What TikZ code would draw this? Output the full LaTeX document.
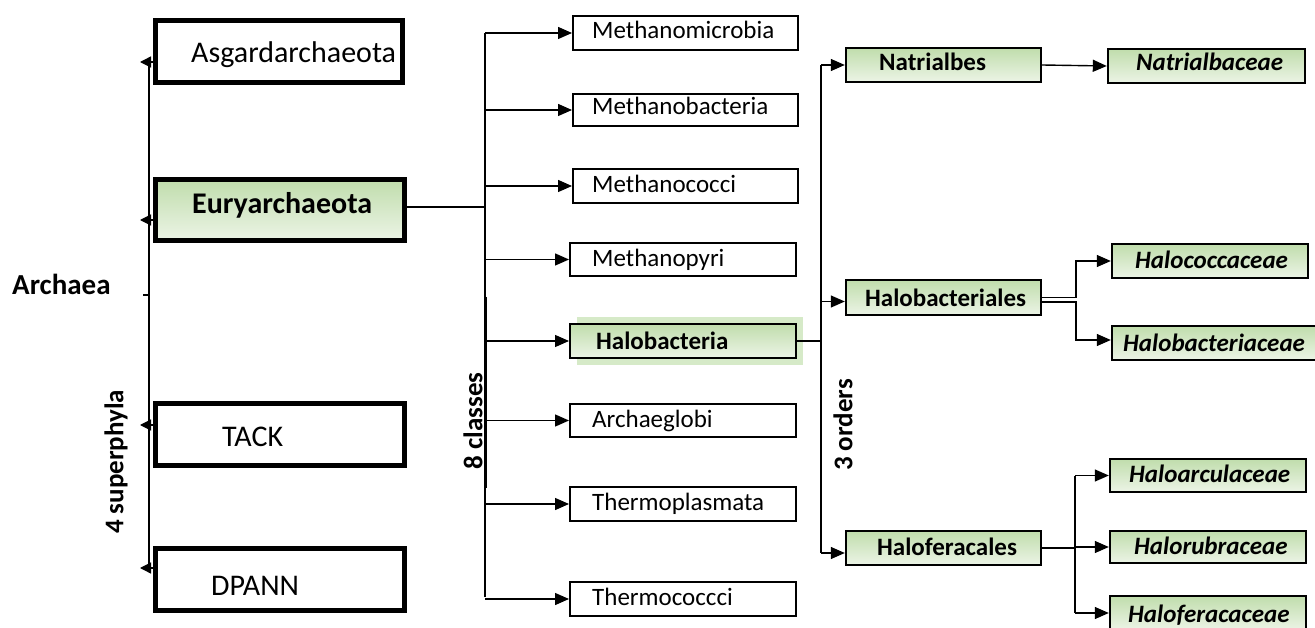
\documentclass[tikz,border=0pt]{standalone}
\usepackage{fontspec}
\setmainfont{Carlito}
\usetikzlibrary{arrows.meta}
\definecolor{gtop}{RGB}{192,221,172}
\definecolor{gbot}{RGB}{236,244,230}
\definecolor{glow}{RGB}{214,234,200}
\begin{document}
\begin{tikzpicture}[x=1pt,y=-1pt,
  bigbox/.style={draw, line width=5pt, rectangle, inner sep=0pt, fill=white},
  clsbox/.style={draw, line width=2pt, rectangle, inner sep=0pt, fill=white},
  ordbox/.style={draw, line width=2.4pt, rectangle, inner sep=0pt, top color=gtop, bottom color=gbot},
  grn/.style={top color=gtop, bottom color=gbot},
  bigtxt/.style={font=\fontsize{30}{32}\selectfont, anchor=base west, inner sep=0pt},
  clstxt/.style={font=\fontsize{25}{27}\selectfont, anchor=base west, inner sep=0pt},
  ordtxt/.style={font=\bfseries\fontsize{25}{27}\selectfont, anchor=base west, inner sep=0pt},
  famtxt/.style={font=\bfseries\itshape\fontsize{25}{27}\selectfont, anchor=base west, inner sep=0pt},
  sidelbl/.style={font=\bfseries\fontsize{27}{29}\selectfont, rotate=90, inner sep=0pt},
  conn/.style={line width=1.4pt},
  arr/.style={conn, -{Triangle[length=14pt,width=12pt]}},
  larr/.style={conn, -{Triangle[length=11pt,width=11pt]}}
]
\useasboundingbox (0,0) rectangle (1315,628);

% ---------- superphyla ----------
\node[bigbox, minimum width=247pt, minimum height=62pt] (asg) at (279,51.5) {};
\node[bigbox, grn, minimum width=249pt, minimum height=61pt] (eur) at (280,210) {};
\node[bigbox, minimum width=249pt, minimum height=62pt] (tack) at (280,434.5) {};
\node[bigbox, minimum width=249pt, minimum height=62pt] (dpann) at (280,579.5) {};
\node[bigtxt] (asgT) at (191,63) {Asgardarchaeota};
\node[bigtxt, font=\bfseries\fontsize{30}{32}\selectfont] (eurT) at (192,214) {Euryarchaeota};
\node[bigtxt] (tackT) at (222,446) {TACK};
\node[bigtxt] (dpannT) at (211,595) {DPANN};
\node[bigtxt, font=\bfseries\fontsize{29}{31}\selectfont] (archT) at (12,295) {Archaea};
\node[sidelbl] (supT) at (116,462) {4 superphyla};

\coordinate (s1) at (149,62);
\coordinate (s2) at (149,220);
\coordinate (s3) at (149,425);
\coordinate (s4) at (149,568);
\coordinate (sm) at (149,295);
\coordinate (smL) at (143,295);
\draw[conn] (s1) -- (s4);
\draw[conn] (sm) -- (smL);
\draw[larr] (asg.west |- s1) -- ++(-13,0);
\draw[larr] (eur.west |- s2) -- ++(-13,0);
\draw[larr] (tack.west |- s3) -- ++(-13,0);
\draw[larr] (dpann.west |- s4) -- ++(-13,0);

% ---------- classes ----------
\node[fill=glow, minimum width=226pt, minimum height=48pt, inner sep=0pt] (haloG) at (690,341) {};
\node[clsbox, minimum width=225pt, minimum height=34pt] (mmic) at (685.5,33) {};
\node[clsbox, minimum width=225pt, minimum height=32pt] (mbac) at (685.5,110) {};
\node[clsbox, minimum width=225pt, minimum height=34pt] (mcoc) at (685.5,186) {};
\node[clsbox, minimum width=226pt, minimum height=33pt] (mpyr) at (683,259.5) {};
\node[clsbox, grn, minimum width=226pt, minimum height=34pt] (halo) at (683,341) {};
\node[clsbox, minimum width=226pt, minimum height=33pt] (arch) at (683,420.5) {};
\node[clsbox, minimum width=226pt, minimum height=34pt] (tpla) at (683,504) {};
\node[clsbox, minimum width=226pt, minimum height=34pt] (tcoc) at (683,599) {};
\node[clstxt] (mmicT) at (592,39) {Methanomicrobia};
\node[clstxt] (mbacT) at (592,115) {Methanobacteria};
\node[clstxt] (mcocT) at (592,193) {Methanococci};
\node[clstxt] (mpyrT) at (592,267) {Methanopyri};
\node[ordtxt] (haloT) at (596,350) {Halobacteria};
\node[clstxt] (archT2) at (592,427) {Archaeglobi};
\node[clstxt] (tplaT) at (592,510) {Thermoplasmata};
\node[clstxt] (tcocT) at (592,605) {Thermococcci};
\node[sidelbl] (clsT) at (473,421) {8 classes};

\coordinate (cx) at (485,207);
\coordinate (cTop) at (485,33);
\coordinate (cBot) at (485,597);
\coordinate (cK1) at (485,297);
\coordinate (cK2) at (485,488);
\draw[conn] (eur.east |- cx) -- (cx);
\draw[conn] (cTop) -- (cBot);
\draw[line width=3pt] (cK1) -- (cK2);
\foreach \n in {mmic,mbac,mcoc,mpyr,halo,arch,tpla,tcoc}
  \draw[arr] (\n.west -| cx) -- (\n.west);

% ---------- orders ----------
\node[ordbox, minimum width=195pt, minimum height=34pt] (natr) at (943.5,65) {};
\node[ordbox, minimum width=195pt, minimum height=35pt] (hbal) at (943.5,297.5) {};
\node[ordbox, minimum width=195pt, minimum height=34pt] (hfer) at (943.5,548) {};
\node[ordtxt] (natrT) at (879,71) {Natrialbes};
\node[ordtxt] (hbalT) at (865,307) {Halobacteriales};
\node[ordtxt] (hferT) at (877,555) {Haloferacales};
\node[sidelbl] (ordT) at (843,425) {3 orders};

\coordinate (ox) at (821,341);
\coordinate (oTop) at (821,65);
\coordinate (oBot) at (821,553);
\draw[conn] (halo.east) -- (ox);
\draw[conn] (oTop) -- (oBot);
\draw[arr] (natr.west -| ox) -- (natr.west);
\draw[arr] ([yshift=-4pt]hbal.west -| ox) -- ([yshift=-4pt]hbal.west);
\draw[arr] ([yshift=-5pt]hfer.west -| ox) -- ([yshift=-5pt]hfer.west);

% ---------- families ----------
\node[ordbox, minimum width=197pt, minimum height=34pt] (natc) at (1206.5,66) {};
\node[ordbox, minimum width=196pt, minimum height=34pt] (hcoc) at (1210,261) {};
\node[ordbox, minimum width=204pt, minimum height=34pt] (hbac) at (1214,343) {};
\node[ordbox, minimum width=196pt, minimum height=33pt] (harc) at (1208,475.5) {};
\node[ordbox, minimum width=196pt, minimum height=32pt] (hrub) at (1208,547) {};
\node[ordbox, minimum width=196pt, minimum height=34pt] (hfrc) at (1208,613) {};
\node[famtxt] (natcT) at (1136,71) {Natrialbaceae};
\node[famtxt] (hcocT) at (1135,269) {Halococcaceae};
\node[famtxt] (hbacT) at (1123,352) {Halobacteriaceae};
\node[famtxt] (harcT) at (1129,482) {Haloarculaceae};
\node[famtxt] (hrubT) at (1134,554) {Halorubraceae};
\node[famtxt] (hfrcT) at (1128,622) {Haloferacaceae};

\draw[arr] (natr.east) -- (natc.west);
\coordinate (fx1) at (1076,297);
\coordinate (fx2) at (1075,547);
\draw[arr] (hbal.east) -- (hbal.east -| fx1) |- (hcoc.west);
\draw[arr] ([yshift=-4.5pt]hbal.east) -- ([yshift=-4.5pt]hbal.east -| fx1) |- ([yshift=3pt]hbac.west);
\draw[conn] (hfer.east) -- (hfer.east -| fx2);
\draw[conn] (harc.west -| fx2) -- (hfrc.west -| fx2);
\foreach \n in {harc,hrub,hfrc}
  \draw[arr] (\n.west -| fx2) -- (\n.west);
\end{tikzpicture}
\end{document}
